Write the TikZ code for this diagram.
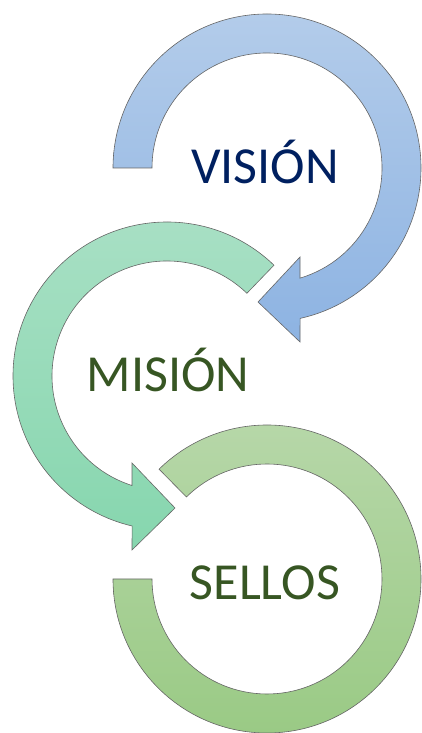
\documentclass[tikz,border=0pt]{standalone}
\usepackage{fontspec}
\setmainfont{Carlito}
\definecolor{bluetop}{HTML}{B3CCEA}
\definecolor{bluebot}{HTML}{8DB3E2}
\definecolor{tealtop}{HTML}{A9E0C5}
\definecolor{tealbot}{HTML}{86D6AE}
\definecolor{greentop}{HTML}{B6D7A8}
\definecolor{greenbot}{HTML}{9ACA85}
\definecolor{navy}{HTML}{002060}
\definecolor{dkgreen}{HTML}{375623}
\tikzset{
  ring/.style={draw=black!60, line width=0.6pt, line join=miter},
  lbl/.style={font=\fontsize{52}{60}\selectfont, inner sep=0pt, anchor=base}
}
\begin{document}
\begin{tikzpicture}[x=1pt,y=1pt]
\useasboundingbox (0,0) rectangle (422,733);
% top ring (blue), center (267,565)
\coordinate (cA) at (267,565);
\path[ring, top color=bluetop, bottom color=bluebot]
  ([shift={(180:154)}]cA) arc[start angle=180, end angle=-77.6, radius=154]
  -- (300,391) -- (258,431) -- (300,476)
  -- ([shift={(-73.3:115)}]cA) arc[start angle=-73.3, end angle=180, radius=115] -- cycle;
% middle ring (teal), center (167,357)
\coordinate (cB) at (167,357);
\path[ring, top color=tealtop, bottom color=tealbot]
  ([shift={(46:154)}]cB) arc[start angle=46, end angle=256.9, radius=154]
  -- (132,183) -- (175,225) -- (132,270)
  -- ([shift={(252.3:115)}]cB) arc[start angle=252.3, end angle=46, radius=115] -- cycle;
% bottom ring (green), center (267,154)
\coordinate (cC) at (267,154);
\path[ring, top color=greentop, bottom color=greenbot]
  ([shift={(-180:154)}]cC) arc[start angle=-180, end angle=134.5, radius=154]
  -- ([shift={(134.5:115)}]cC) arc[start angle=134.5, end angle=-180, radius=115] -- cycle;
\node[lbl, text=navy] (vision) at (265,549.7) {VISIÓN};
\node[lbl, text=dkgreen] (mision) at (168,341.3) {MISIÓN};
\node[lbl, text=dkgreen] (sellos) at (265,133) {SELLOS};
\end{tikzpicture}
\end{document}
